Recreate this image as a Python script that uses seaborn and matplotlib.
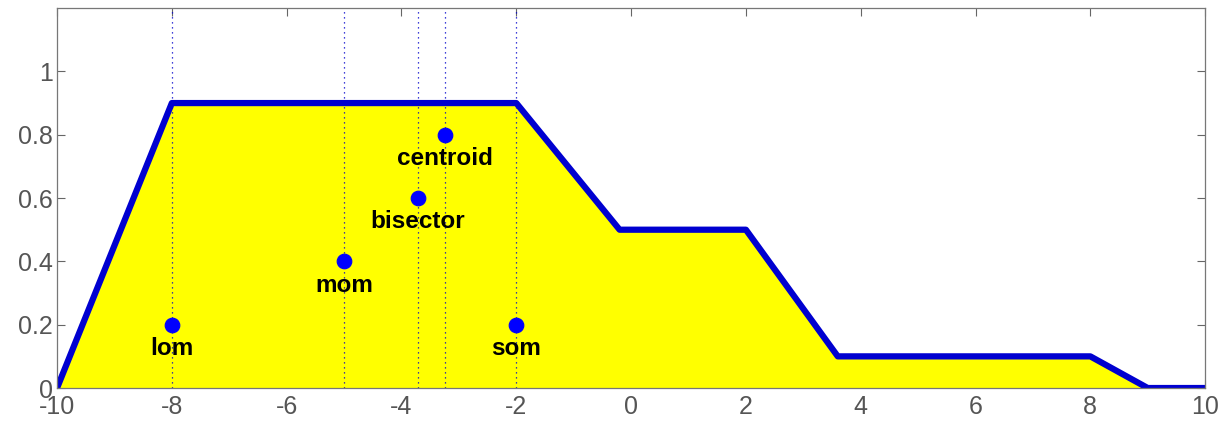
import seaborn as sns
import pandas as pd
import matplotlib.pyplot as plt
import numpy as np

# aggregated membership function (breakpoints)
mf_x = [-10, -8, -2, -0.2, 2, 3.6, 8, 9, 10]
mf_y = [0, 0.9, 0.9, 0.5, 0.5, 0.1, 0.1, 0, 0]

# defuzzified values
methods = ['lom', 'mom', 'bisector', 'centroid', 'som']
method_x = [-8, -5, -3.72, -3.24, -2]
method_y = [0.2, 0.4, 0.6, 0.8, 0.2]

sns.set_style('white')
plt.rcParams['font.family'] = ['Liberation Sans', 'DejaVu Sans']
plt.rcParams['axes.unicode_minus'] = False

fig = plt.figure(figsize=(12.24, 4.25), dpi=100)
ax = fig.add_axes([0.0466, 0.087, 0.938, 0.894])

mf_df = pd.DataFrame({'x': mf_x, 'y': mf_y})
ax.fill_between(mf_df['x'], mf_df['y'], 0, color='#ffff00', linewidth=0)

for xv in method_x:
    ax.axvline(xv, color='#0000cc', linestyle=(0, (1, 3)), linewidth=0.9)

sns.lineplot(data=mf_df, x='x', y='y', color='#0000d0', linewidth=4.5,
             ax=ax, sort=False)

pts_df = pd.DataFrame({'method': methods, 'x': method_x, 'y': method_y})
sns.scatterplot(data=pts_df, x='x', y='y', color='#0000ff', s=110,
                edgecolor='#0000ff', zorder=5, ax=ax)
for _, r in pts_df.iterrows():
    ax.text(r['x'], r['y'] - 0.075, r['method'], ha='center', va='center',
            fontsize=17.5, fontweight='bold', color='black')

ax.set_xlim(-10, 10)
ax.set_ylim(0, 1.2)
ax.set_xticks(np.arange(-10, 11, 2))
ax.set_yticks([0, 0.2, 0.4, 0.6, 0.8, 1])
ax.set_yticklabels(['0', '0.2', '0.4', '0.6', '0.8', '1'])
ax.set_xlabel('')
ax.set_ylabel('')
ax.tick_params(direction='in', length=6, width=0.8, color='#666666',
               labelcolor='#555555', labelsize=18, top=True, right=True,
               bottom=True, left=True, pad=3)
ax.tick_params(axis='x', pad=5)
for s in ax.spines.values():
    s.set_color('#777777')
    s.set_linewidth(0.9)

fig.savefig('out.png', dpi=100)
